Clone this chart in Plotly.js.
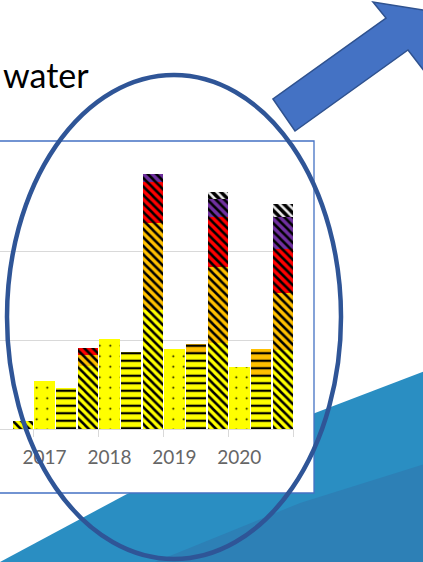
<!DOCTYPE html>
<html>
<head>
<meta charset="utf-8">
<script src="https://cdn.plot.ly/plotly-3.0.1.min.js"></script>
<style>
  html, body { margin: 0; padding: 0; background: #ffffff; overflow: hidden; }
  #chart { width: 423px; height: 562px; }
</style>
</head>
<body>
<div id="chart"></div>
<script>
// ---- data ----
const years = [2016, 2017, 2018, 2019, 2020];
const yearLabels = ["2016", "2017", "2018", "2019", "2020"];

// bar 1 of each year: dotted yellow
const dottedYellow = [null, 5.4, 10.1, 9.0, 7.0];

// bar 2 of each year: horizontal-line bars
const horizYellow = [null, 4.6, 8.65, 8.5, 6.1];
const horizOrange = [null, 0, 0, 1.1, 2.9];

// bar 3 of each year: diagonal-stripe bars
const diagYellow = [0.93, 7.1, 13.4, 9.7, 8.9];
const diagOrange = [0, 1.2, 9.7, 8.5, 6.4];
const diagRed = [0, 0.8, 4.7, 5.6, 4.9];
const diagPurple = [0, 0, 0.9, 2.0, 3.6];
const diagBlack = [0, 0, 0, 0.8, 1.5];

// ---- helpers ----
const W = 423, H = 562;
const px = x => x / W;
const py = y => 1 - y / H;
const pathOf = pts => 'M ' + pts.map(p => px(p[0]) + ',' + py(p[1])).join(' L ') + ' Z';

const xA = years.map((y, i) => i * 3);
const xB = years.map((y, i) => i * 3 + 1);
const xC = years.map((y, i) => i * 3 + 2);

function bar(x, y, color, shape, size, solidity, fg) {
  return {
    type: 'bar', x: x, y: y,
    marker: {
      color: color,
      line: { width: 0 },
      pattern: { shape: shape, size: size, solidity: solidity, fgcolor: fg || '#000000', bgcolor: color, fillmode: 'replace' }
    },
    hoverinfo: 'skip'
  };
}

const YEL = '#FFFF00', ORG = '#FFC000', RED = '#FF0000', PUR = '#7030A0', BLK = '#000000';

const traces = [
  bar(xA, dottedYellow, YEL, '.', 10.5, 0.025),
  bar(xB, horizYellow, YEL, '-', 7.5, 0.3),
  bar(xB, horizOrange, ORG, '-', 7.5, 0.3),
  bar(xC, diagYellow, YEL, '\\', 6, 0.42),
  bar(xC, diagOrange, ORG, '\\', 6, 0.42),
  bar(xC, diagRed, RED, '\\', 6, 0.42),
  bar(xC, diagPurple, PUR, '\\', 6, 0.42),
  bar(xC, diagBlack, BLK, '\\', 6, 0.42, '#e8e8e8')
];

const boundaries = years.map((y, i) => i * 3 + 2.5);

const shapes = [
  // slide background: blue wave
  { type: 'path', xref: 'paper', yref: 'paper', layer: 'below',
    path: pathOf([[-2, 563], [127, 494], [220, 453], [315, 413], [425, 371], [425, 564]]),
    fillcolor: '#2A8EC2', line: { width: 0 } },
  { type: 'path', xref: 'paper', yref: 'paper', layer: 'below',
    path: pathOf([[150, 564], [300, 503], [425, 464], [425, 564]]),
    fillcolor: '#2D80B6', line: { width: 0 } },
  // chart frame
  { type: 'rect', xref: 'paper', yref: 'paper', layer: 'below',
    x0: px(-10), x1: px(314), y0: py(493), y1: py(141),
    fillcolor: '#ffffff', line: { color: '#4472C4', width: 1.3 } },
  // ellipse highlight
  { type: 'circle', xref: 'paper', yref: 'paper', layer: 'above',
    x0: px(7), x1: px(341), y0: py(559), y1: py(75),
    fillcolor: 'rgba(0,0,0,0)', line: { color: '#2F5597', width: 4.5 } },
  // block arrow
  { type: 'path', xref: 'paper', yref: 'paper', layer: 'above',
    path: pathOf([[273, 99], [295, 131], [408, 50], [425, 72], [429, 11], [373, 2], [386, 18]]),
    fillcolor: '#4472C4', line: { color: '#2F528F', width: 1.5 } }
];

const layout = {
  width: W, height: H,
  margin: { l: 0, r: 0, t: 0, b: 0, pad: 0 },
  paper_bgcolor: '#ffffff',
  plot_bgcolor: 'rgba(0,0,0,0)',
  showlegend: false,
  barmode: 'stack',
  bargap: 0.06,
  xaxis: {
    domain: [0, 293.5 / W],
    range: [0.946, 14.5],
    tickmode: 'array',
    tickvals: xA,
    ticktext: yearLabels,
    ticks: 'outside', ticklen: 11, tickcolor: 'rgba(0,0,0,0)',
    tickfont: { family: 'Lato, "Open Sans", sans-serif', size: 19, color: '#666666' },
    showline: true, linecolor: '#d9d9d9', linewidth: 1,
    showgrid: false, zeroline: false,
    minor: { tickmode: 'array', tickvals: boundaries, ticks: 'outside', ticklen: 7, tickcolor: '#d9d9d9', tickwidth: 1, showgrid: false },
    fixedrange: true
  },
  yaxis: {
    domain: [py(429), py(162)],
    range: [0, 30],
    dtick: 10,
    showgrid: true, gridcolor: '#d9d9d9', gridwidth: 1,
    showticklabels: false, ticks: '', zeroline: false, showline: false,
    fixedrange: true
  },
  shapes: shapes,
  annotations: [
    { xref: 'paper', yref: 'paper', x: px(1), y: py(74), xanchor: 'left', yanchor: 'middle',
      text: 'water', showarrow: false,
      font: { family: 'Lato, "Open Sans", sans-serif', size: 34, color: '#000000' } }
  ]
};

Plotly.newPlot('chart', traces, layout, { staticPlot: true, displayModeBar: false });
</script>
</body>
</html>
